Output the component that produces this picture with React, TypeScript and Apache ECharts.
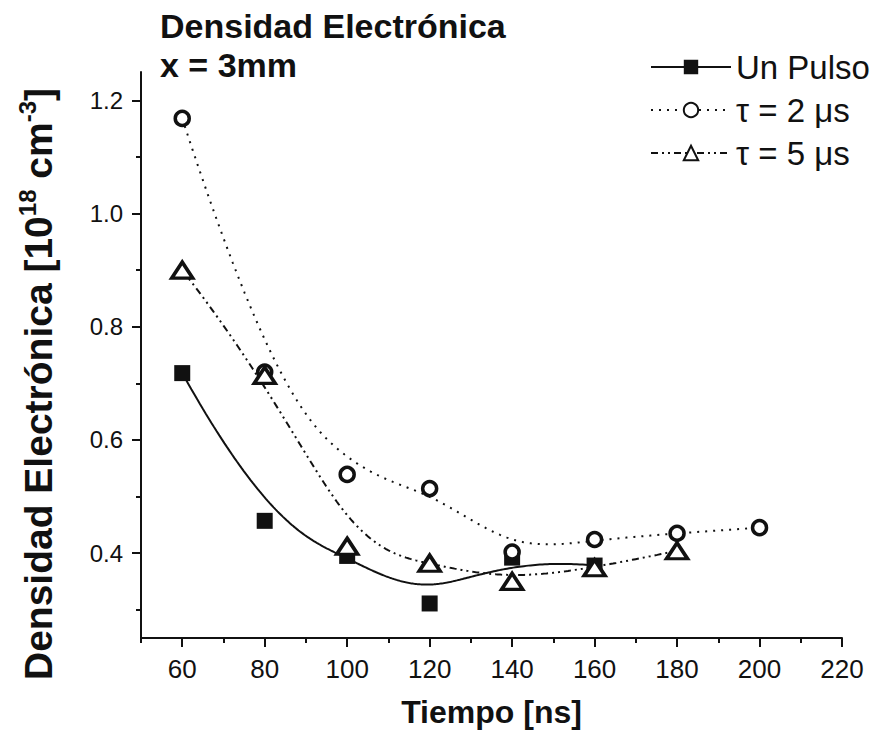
import React, { useEffect, useRef } from "react";
import * as echarts from "echarts";

// ---- data ----
const unPulsoX = [60, 80, 100, 120, 140, 160];
const unPulsoY = [0.718, 0.457, 0.395, 0.311, 0.392, 0.378];

const tau2X = [60, 80, 100, 120, 140, 160, 180, 200];
const tau2Y = [1.168, 0.72, 0.539, 0.514, 0.402, 0.424, 0.435, 0.445];

const tau5X = [60, 80, 100, 120, 140, 160, 180];
const tau5Y = [0.9, 0.714, 0.412, 0.382, 0.35, 0.374, 0.404];

const xMajorTicks = [60, 80, 100, 120, 140, 160, 180, 200, 220];
const xMinorTicks = [50, 70, 90, 110, 130, 150, 170, 190, 210];
const yMajorTicks = [0.4, 0.6, 0.8, 1.0, 1.2];
const yMinorTicks = [0.3, 0.5, 0.7, 0.9, 1.1];

const seriesNames = ["Un Pulso", "τ = 2 μs", "τ = 5 μs"];

// Clamped cubic B-spline using the data points as control points (Origin "B-Spline" connection)
function bspline(xs: number[], ys: number[], samples = 240): number[][] {
  const n = xs.length;
  const p = Math.min(3, n - 1);
  const knots: number[] = [];
  for (let i = 0; i <= n + p; i++) {
    if (i <= p) knots.push(0);
    else if (i >= n) knots.push(n - p);
    else knots.push(i - p);
  }
  const tMax = n - p;
  const out: number[][] = [];
  for (let s = 0; s <= samples; s++) {
    const t = (s / samples) * tMax;
    let k = p;
    while (k < n - 1 && t >= knots[k + 1]) k++;
    const dx: number[] = [];
    const dy: number[] = [];
    for (let j = 0; j <= p; j++) {
      dx.push(xs[k - p + j]);
      dy.push(ys[k - p + j]);
    }
    for (let r = 1; r <= p; r++) {
      for (let j = p; j >= r; j--) {
        const i = k - p + j;
        const den = knots[i + p - r + 1] - knots[i];
        const a = den === 0 ? 0 : (t - knots[i]) / den;
        dx[j] = (1 - a) * dx[j - 1] + a * dx[j];
        dy[j] = (1 - a) * dy[j - 1] + a * dy[j];
      }
    }
    out.push([dx[p], dy[p]]);
  }
  return out;
}

const zip = (xs: number[], ys: number[]) => xs.map((x, i) => [x, ys[i]]);

const FONT = "'Liberation Sans', Arial, Helvetica, sans-serif";
const INK = "#111";

export default function App() {
  const ref = useRef<HTMLDivElement>(null);

  useEffect(() => {
    if (!ref.current) return;
    const chart = echarts.init(ref.current, undefined, { renderer: "svg" });

    const axisCommon = {
      type: "value" as const,
      splitLine: { show: false },
    };

    chart.setOption({
      animation: false,
      backgroundColor: "#fff",
      textStyle: { fontFamily: FONT, color: INK },
      title: {
        text: "Densidad Electrónica\nx = 3mm",
        left: 160,
        top: 6,
        padding: 0,
        textStyle: {
          fontFamily: FONT,
          fontSize: 34,
          fontWeight: "bold",
          color: INK,
          lineHeight: 39,
        },
      },
      legend: {
        data: seriesNames,
        orient: "vertical",
        left: 650,
        top: 47,
        padding: 0,
        itemWidth: 80,
        itemHeight: 18,
        itemGap: 3,
        textStyle: { fontFamily: FONT, fontSize: 33, color: INK, lineHeight: 40 },
      },
      graphic: [
        {
          type: "text",
          x: 38,
          y: 384,
          rotation: Math.PI / 2,
          style: {
            text: "Densidad Electrónica [10{sup|18} cm{sup|-3}]",
            fontFamily: FONT,
            fontSize: 39,
            fontWeight: "bold",
            fill: INK,
            align: "center",
            verticalAlign: "middle",
            lineHeight: 46,
            rich: {
              sup: {
                fontFamily: FONT,
                fontSize: 24,
                fontWeight: "bold",
                fill: INK,
                lineHeight: 24,
                verticalAlign: "top",
              },
            },
          },
        },
      ],
      grid: {
        left: 141,
        right: 43,
        top: 72,
        bottom: 95,
        containLabel: false,
        outerBoundsMode: "none",
      },
      xAxis: [
        {
          ...axisCommon,
          min: 50,
          max: 220,
          position: "bottom",
          axisLine: { show: true, lineStyle: { color: INK, width: 2 } },
          axisTick: {
            show: true,
            customValues: xMajorTicks,
            length: 9,
            lineStyle: { color: INK, width: 2 },
          },
          axisLabel: {
            customValues: xMajorTicks,
            fontFamily: FONT,
            fontSize: 26,
            lineHeight: 26,
            color: INK,
            margin: 18,
          },
          name: "Tiempo [ns]",
          nameLocation: "middle",
          nameGap: 54,
          nameTextStyle: {
            fontFamily: FONT,
            fontSize: 32,
            fontWeight: "bold",
            color: INK,
            lineHeight: 40,
          },
        },
        {
          ...axisCommon,
          min: 50,
          max: 220,
          position: "bottom",
          axisLine: { show: false },
          axisTick: {
            show: true,
            customValues: xMinorTicks,
            length: 5,
            lineStyle: { color: INK, width: 2 },
          },
          axisLabel: { show: false },
        },
      ],
      yAxis: [
        {
          ...axisCommon,
          min: 0.25,
          max: 1.25,
          position: "left",
          axisLine: { show: true, lineStyle: { color: INK, width: 2 } },
          axisTick: {
            show: true,
            customValues: yMajorTicks,
            length: 9,
            lineStyle: { color: INK, width: 2 },
          },
          axisLabel: {
            customValues: yMajorTicks,
            formatter: (v: number) => v.toFixed(1),
            fontFamily: FONT,
            fontSize: 24,
            color: INK,
            margin: 18,
          },
        },
        {
          ...axisCommon,
          min: 0.25,
          max: 1.25,
          position: "left",
          axisLine: { show: false },
          axisTick: {
            show: true,
            customValues: yMinorTicks,
            length: 5,
            lineStyle: { color: INK, width: 2 },
          },
          axisLabel: { show: false },
        },
      ],
      series: [
        {
          name: seriesNames[0],
          type: "line",
          data: bspline(unPulsoX, unPulsoY),
          showSymbol: false,
          symbol: "rect",
          color: INK,
          lineStyle: { color: INK, width: 2, type: "solid" },
          z: 1,
        },
        {
          name: seriesNames[1],
          type: "line",
          data: bspline(tau2X, tau2Y),
          showSymbol: false,
          symbol: "emptyCircle",
          color: INK,
          lineStyle: { color: INK, width: 2, type: [2, 6] },
          z: 1,
        },
        {
          name: seriesNames[2],
          type: "line",
          data: bspline(tau5X, tau5Y),
          showSymbol: false,
          symbol: "emptyTriangle",
          color: INK,
          lineStyle: { color: INK, width: 2, type: [7, 4, 2, 4, 2, 4] },
          z: 1,
        },
        {
          name: "pts-unpulso",
          type: "scatter",
          data: zip(unPulsoX, unPulsoY),
          symbol: "rect",
          symbolSize: 16,
          itemStyle: { color: INK, opacity: 1 },
          z: 3,
        },
        {
          name: "pts-tau2",
          type: "scatter",
          data: zip(tau2X, tau2Y),
          symbol: "circle",
          symbolSize: 14,
          itemStyle: { color: "#fff", borderColor: INK, borderWidth: 3.5, opacity: 1 },
          z: 4,
        },
        {
          name: "pts-tau5",
          type: "scatter",
          data: zip(tau5X, tau5Y),
          symbol: "triangle",
          symbolSize: [21, 16],
          itemStyle: { color: "#fff", borderColor: INK, borderWidth: 3.5, opacity: 1 },
          z: 5,
        },
      ],
    });

    return () => chart.dispose();
  }, []);

  return (
    <div
      ref={ref}
      style={{ position: "absolute", left: 0, top: 0, width: 885, height: 733 }}
    />
  );
}
